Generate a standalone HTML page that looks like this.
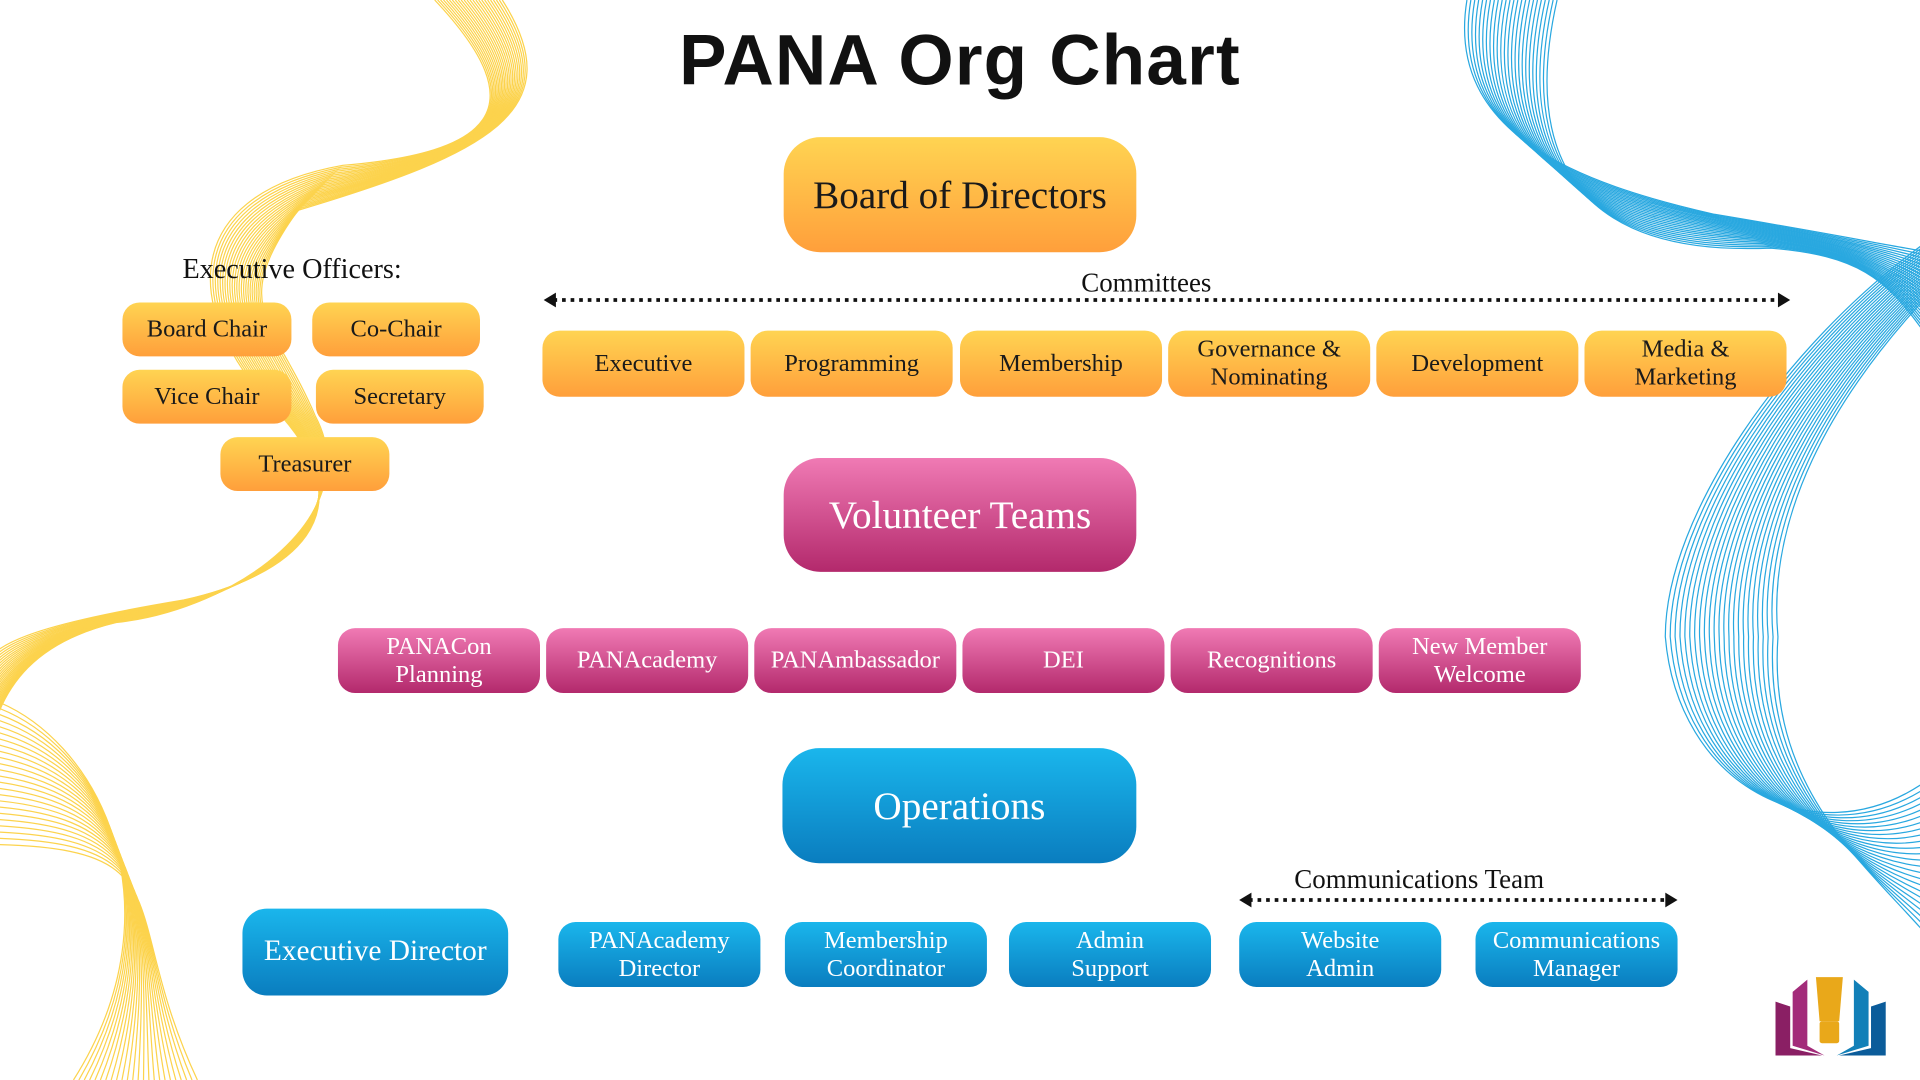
<!DOCTYPE html>
<html><head><meta charset="utf-8"><style>
html,body{margin:0;padding:0;width:1920px;height:1080px;overflow:hidden;background:#fff}
#s{position:absolute;left:0;top:0;width:1568px;height:882px;transform:scale(1.2244898);transform-origin:0 0;font-family:"Liberation Serif",serif}
.b{position:absolute;display:flex;align-items:center;justify-content:center;text-align:center;line-height:1.15;box-sizing:border-box}
.o{background:linear-gradient(#ffd452,#ff9f3b);color:#1a1a1a;border-radius:14px;font-size:20px}
.p{background:linear-gradient(#f07ab4,#b3296c);color:#fff;border-radius:14px;font-size:20px}
.u{background:linear-gradient(#1ab6ec,#0a7dbf);color:#fff;border-radius:14px;font-size:20px}
.big{border-radius:30px;font-size:32px}
.t{position:absolute;color:#111;white-space:nowrap}
</style></head><body><div id="s">
<svg id="w" width="1568" height="882" style="position:absolute;left:0;top:0"></svg>
<div class="t" style="left:0;width:1568px;text-align:center;top:16px;font-family:'Liberation Sans',sans-serif;font-weight:bold;font-size:58px;letter-spacing:1px">PANA Org Chart</div>

<div class="b o big" style="left:640px;top:112px;width:288px;height:94px">Board of Directors</div>
<div class="t" style="left:883px;top:218px;font-size:22px">Committees</div>
<svg style="position:absolute;left:0;top:0" width="1568" height="882">
<line x1="452" y1="245" x2="1454" y2="245" stroke="#111" stroke-width="3" stroke-dasharray="3,4"/>
<polygon points="444,245 454,239 454,251" fill="#111"/><polygon points="1462,245 1452,239 1452,251" fill="#111"/>
<line x1="1020" y1="735" x2="1362" y2="735" stroke="#111" stroke-width="3" stroke-dasharray="3,4"/>
<polygon points="1012,735 1022,729 1022,741" fill="#111"/><polygon points="1370,735 1360,729 1360,741" fill="#111"/>
<g transform="translate(1450,796)">
<polygon points="0,22 12,26 12,60 38,66 0,66" fill="#8a1f64"/>
<polygon points="14,14 26,4 26,58 40,66 14,58" fill="#a32b7a"/>
<polygon points="90,22 78,26 78,60 52,66 90,66" fill="#0b5c9a"/>
<polygon points="76,14 64,4 64,58 50,66 76,58" fill="#1280b8"/>
<path d="M33,2 h22 l-3,36 h-16 z" fill="#e9a81a"/><rect x="36" y="38" width="16" height="18" rx="2" fill="#e9a81a"/>
</g></svg>

<div class="b o" style="left:443px;top:270px;width:165px;height:54px">Executive</div>
<div class="b o" style="left:613px;top:270px;width:165px;height:54px">Programming</div>
<div class="b o" style="left:784px;top:270px;width:165px;height:54px">Membership</div>
<div class="b o" style="left:954px;top:270px;width:165px;height:54px">Governance &amp;<br>Nominating</div>
<div class="b o" style="left:1124px;top:270px;width:165px;height:54px">Development</div>
<div class="b o" style="left:1294px;top:270px;width:165px;height:54px">Media &amp;<br>Marketing</div>

<div class="t" style="left:149px;top:207px;font-size:23px">Executive Officers:</div>
<div class="b o" style="left:100px;top:247px;width:138px;height:44px">Board Chair</div>
<div class="b o" style="left:255px;top:247px;width:137px;height:44px">Co-Chair</div>
<div class="b o" style="left:100px;top:302px;width:138px;height:44px">Vice Chair</div>
<div class="b o" style="left:258px;top:302px;width:137px;height:44px">Secretary</div>
<div class="b o" style="left:180px;top:357px;width:138px;height:44px">Treasurer</div>

<div class="b p big" style="left:640px;top:374px;width:288px;height:93px">Volunteer Teams</div>
<div class="b p" style="left:276px;top:513px;width:165px;height:53px">PANACon<br>Planning</div>
<div class="b p" style="left:446px;top:513px;width:165px;height:53px">PANAcademy</div>
<div class="b p" style="left:616px;top:513px;width:165px;height:53px">PANAmbassador</div>
<div class="b p" style="left:786px;top:513px;width:165px;height:53px">DEI</div>
<div class="b p" style="left:956px;top:513px;width:165px;height:53px">Recognitions</div>
<div class="b p" style="left:1126px;top:513px;width:165px;height:53px">New Member<br>Welcome</div>

<div class="b u big" style="left:639px;top:611px;width:289px;height:94px">Operations</div>
<div class="b u" style="left:198px;top:742px;width:217px;height:71px;border-radius:20px;font-size:24px">Executive Director</div>
<div class="b u" style="left:456px;top:753px;width:165px;height:53px">PANAcademy<br>Director</div>
<div class="b u" style="left:641px;top:753px;width:165px;height:53px">Membership<br>Coordinator</div>
<div class="b u" style="left:824px;top:753px;width:165px;height:53px">Admin<br>Support</div>
<div class="b u" style="left:1012px;top:753px;width:165px;height:53px">Website<br>Admin</div>
<div class="b u" style="left:1205px;top:753px;width:165px;height:53px">Communications<br>Manager</div>
<div class="t" style="left:1057px;top:705px;font-size:22px">Communications Team</div>
</div>
<script>
var w=document.getElementById('w'),h='';
function P(d,c){h+='<path d="'+d+'" fill="none" stroke="'+c+'" stroke-width="1"/>';}
for(var i=0;i<24;i++){var d=i*4,f=i/23;
P('M'+(355+d*0.6)+',0 C'+(440+d*0.3)+',90 '+(400)+',125 '+(280-d*0.4)+','+(135+d*0.4)+' C'+(140+d*0.5)+','+(160+d)+' '+(150+d*0.8)+',260 '+(230+d*0.3)+',340 C'+(300)+',420 '+(240-d*0.5)+','+(470+d*0.3)+' '+(150-d*0.6)+','+(490+d*0.2)+' C'+(60-d*0.3)+','+(505+d*0.2)+' 0,'+(520+d*0.4)+' -10,'+(540+d*0.8),'#fcd34d');
P('M-10,'+(570+d*1.3)+' C'+(80+d*0.8)+','+(600+d)+' '+(150-d*0.6)+',740 '+(60+d*1.1)+',882','#fcd34d');
P('M'+(1198+d*0.8)+',0 C'+(1180+d*0.5)+','+(110+d)+' '+(1290+d)+','+(150+d*0.6)+' '+(1400+d*0.5)+','+(175+d*0.3)+' C'+(1490+d*0.3)+','+(190+d*0.2)+' 1540,'+(200+d*0.3)+' 1570,'+(205+d*0.7),'#29a8e0');
P('M'+(1570)+','+(200+d*0.5)+' C'+(1460+d*0.4)+','+(280+d*0.5)+' '+(1360+d*0.9)+','+(420)+' '+(1360+d)+',520 C'+(1370+d*0.8)+',640 '+(1480+d*0.4)+',700 1570,'+(640+d*1.3),'#29a8e0');}
w.innerHTML=h;
</script>
</body></html>
